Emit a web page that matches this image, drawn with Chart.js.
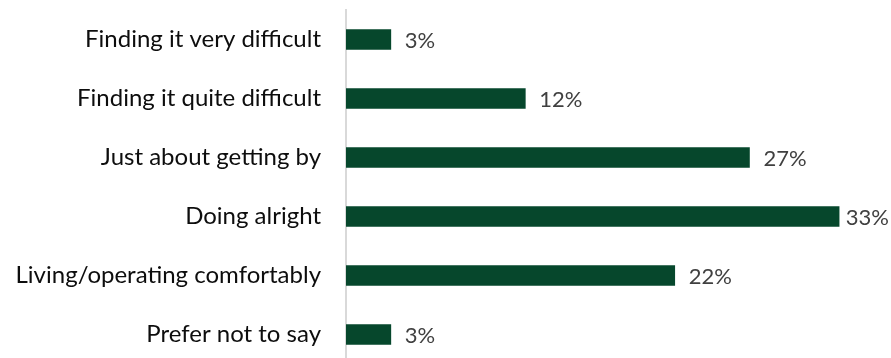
<!DOCTYPE html>
<html>
<head>
<meta charset="utf-8">
<script src="https://cdn.jsdelivr.net/npm/chart.js@4"></script>
<style>
html,body{margin:0;padding:0;background:#fff;overflow:hidden;}
#wrap{width:891px;height:364px;position:relative;}
</style>
</head>
<body>
<div id="wrap"><canvas id="c" width="891" height="364"></canvas></div>
<script>
const categories = [
  "Finding it very difficult",
  "Finding it quite difficult",
  "Just about getting by",
  "Doing alright",
  "Living/operating comfortably",
  "Prefer not to say"
];
const values = [3, 12, 27, 33, 22, 3];
const valueLabels = ["3%", "12%", "27%", "33%", "22%", "3%"];

const FONT = "Lato, 'Open Sans', sans-serif";

const valueLabelPlugin = {
  id: 'valueLabels',
  afterDatasetsDraw(chart) {
    const ctx = chart.ctx;
    const meta = chart.getDatasetMeta(0);
    ctx.save();
    ctx.font = "22px " + FONT;
    ctx.fillStyle = "#404040";
    ctx.textBaseline = "middle";
    ctx.textAlign = "left";
    meta.data.forEach((bar, i) => {
      const txt = valueLabels[i];
      const w = ctx.measureText(txt).width;
      let x = bar.x + 14;
      if (x + w > chart.width - 2) x = Math.max(bar.x + 6, chart.width - 2 - w);
      ctx.fillText(txt, x, bar.y + 1);
    });
    ctx.restore();
  }
};

new Chart(document.getElementById('c'), {
  type: 'bar',
  data: {
    labels: categories,
    datasets: [{
      data: values,
      backgroundColor: '#06472C',
      borderWidth: 0,
      barThickness: 20
    }]
  },
  options: {
    indexAxis: 'y',
    responsive: false,
    animation: false,
    layout: { padding: { top: 10, bottom: 0, left: 0, right: 22 } },
    plugins: { legend: { display: false }, tooltip: { enabled: false } },
    scales: {
      x: { display: false, min: 0, max: 35 },
      y: {
        grid: { display: false, drawTicks: false },
        border: { display: true, color: '#D9D9D9', width: 2 },
        ticks: { color: '#0D0D0D', font: { family: FONT, size: 24 }, padding: 25 },
        afterFit(scale) {
          scale.width = 346;
          scale.paddingTop = 0;
          scale.paddingBottom = 0;
        }
      }
    }
  },
  plugins: [valueLabelPlugin]
});
</script>
</body>
</html>
